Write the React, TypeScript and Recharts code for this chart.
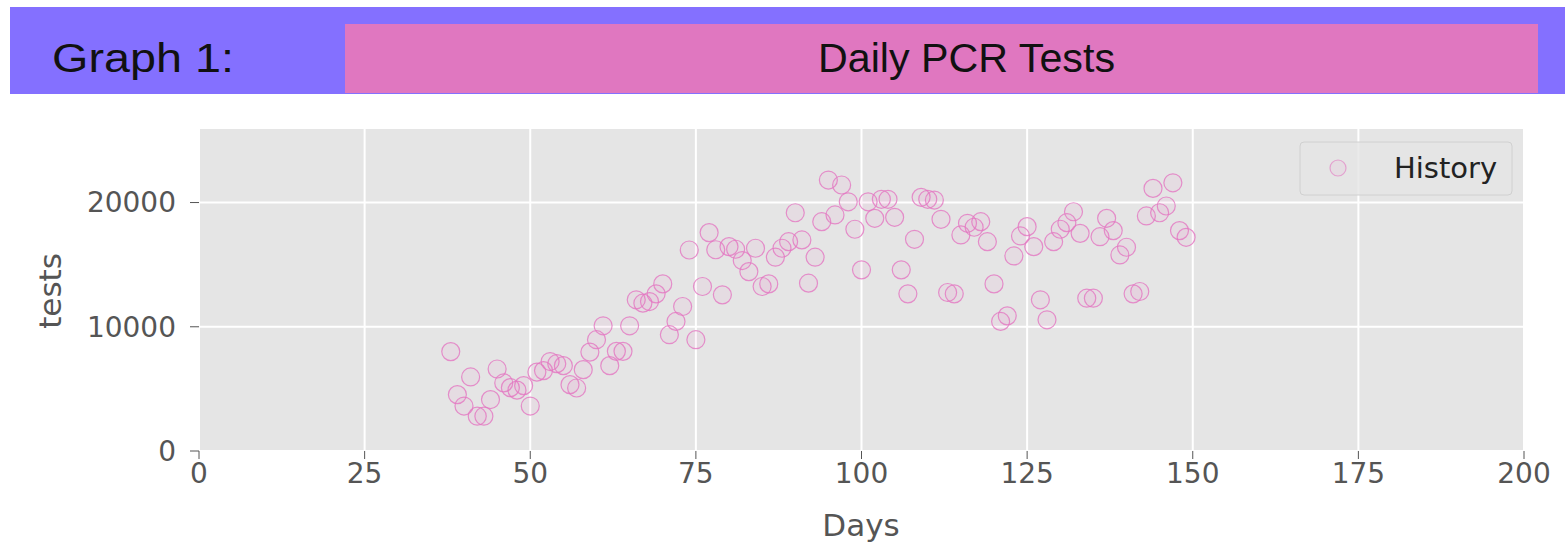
import React from 'react'
import { ScatterChart, Scatter, XAxis, YAxis, CartesianGrid, Label } from 'recharts'

// day number of each reading
const DAYS = [
    38, 39, 40, 41, 42, 43, 44, 45, 46, 47, 48, 49, 50, 51, 52, 53, 54, 55, 56, 57,
    58, 59, 60, 61, 62, 63, 64, 65, 66, 67, 68, 69, 70, 71, 72, 73, 74, 75, 76, 77,
    78, 79, 80, 81, 82, 83, 84, 85, 86, 87, 88, 89, 90, 91, 92, 93, 94, 95, 96, 97,
    98, 99, 100, 101, 102, 103, 104, 105, 106, 107, 108, 109, 110, 111, 112, 113, 114, 115, 116, 117,
    118, 119, 120, 121, 122, 123, 124, 125, 126, 127, 128, 129, 130, 131, 132, 133, 134, 135, 136, 137,
    138, 139, 140, 141, 142, 143, 144, 145, 146, 147, 148, 149,
]

// PCR tests per day
const TESTS = [
    8000, 4540, 3620, 5960, 2800, 2800, 4140, 6600, 5480, 5100, 4900, 5260, 3620, 6350, 6470, 7200, 7030, 6870, 5340, 5070,
    6550, 7960, 8960, 10080, 6870, 8020, 8020, 10080, 12170, 11900, 12030, 12650, 13450, 9360, 10430, 11630, 16180, 8960, 13240, 17580,
    16200, 12570, 16450, 16240, 15330, 14440, 16320, 13240, 13450, 15600, 16320, 16850, 19180, 16990, 13510, 15600, 18460, 21810, 19000, 21410,
    20060, 17850, 14580, 20060, 18730, 20260, 20260, 18810, 14580, 12650, 17040, 20420, 20260, 20200, 18650, 12760, 12650, 17390, 18330, 18010,
    18460, 16850, 13450, 10430, 10880, 15700, 17310, 18060, 16450, 12170, 10560, 16850, 17850, 18380, 19260, 17520, 12300, 12300, 17250, 18730,
    17740, 15780, 16400, 12650, 12840, 18920, 21140, 19180, 19720, 21590, 17740, 17200,
]

const X_TICKS = [0, 25, 50, 75, 100, 125, 150, 175, 200]
const Y_TICKS = [0, 10000, 20000]

const PINK = '#e377c2'
const TICK_FONT = '"DejaVu Sans", sans-serif'

const data = DAYS.map((d, i) => ({ day: d, tests: TESTS[i] }))

const Ring = (props: any) => (
    <circle
        cx={props.cx}
        cy={props.cy}
        r={9}
        fill={PINK}
        fillOpacity={0.08}
        stroke={PINK}
        strokeOpacity={0.8}
        strokeWidth={1.2}
    />
)

export default function App() {
    return (
        <div style={{ position: 'absolute', left: 0, top: 0, width: 1565, height: 546, background: '#fff' }}>
            <ScatterChart
                width={1565}
                height={546}
                margin={{ top: 128, right: 41, bottom: 35, left: 0 }}
            >
                <CartesianGrid fill="#e5e5e5" stroke="#ffffff" strokeWidth={2} />
                <XAxis
                    type="number"
                    dataKey="day"
                    domain={[0, 200]}
                    ticks={X_TICKS}
                    height={60}
                    axisLine={false}
                    tickLine={{ stroke: '#555' }}
                    tickSize={8}
                    tickMargin={4}
                    tick={{ fill: '#555', fontSize: 28, fontFamily: TICK_FONT }}
                >
                    <Label
                        content={() => (
                            <text x={861} y={536} textAnchor="middle" fill="#555" fontSize={31} fontFamily={TICK_FONT}>
                                Days
                            </text>
                        )}
                    />
                </XAxis>
                <YAxis
                    type="number"
                    dataKey="tests"
                    domain={[0, 26000]}
                    ticks={Y_TICKS}
                    width={199}
                    axisLine={false}
                    tickLine={{ stroke: '#555' }}
                    tickSize={9}
                    tickMargin={14}
                    tick={{ fill: '#555', fontSize: 28, fontFamily: TICK_FONT }}
                >
                    <Label
                        content={() => (
                            <text
                                x={61}
                                y={291}
                                transform="rotate(-90 61 291)"
                                textAnchor="middle"
                                fill="#555"
                                fontSize={31}
                                fontFamily={TICK_FONT}
                            >
                                tests
                            </text>
                        )}
                    />
                </YAxis>
                <Scatter name="History" data={data} shape={Ring} isAnimationActive={false} />
            </ScatterChart>

            {/* header banner + legend drawn on top */}
            <svg width={1565} height={546} style={{ position: 'absolute', left: 0, top: 0, pointerEvents: 'none' }}>
                <rect x={10} y={7} width={1555} height={87} fill="#8470ff" />
                <rect x={345} y={24} width={1193} height={69} fill="#e077c0" />
                <text
                    x={52}
                    y={72}
                    fontSize={41}
                    fontFamily='"Liberation Sans", Arial, sans-serif'
                    fill="#111"
                    textLength={182}
                    lengthAdjust="spacingAndGlyphs"
                >
                    Graph 1:
                </text>
                <text
                    x={818}
                    y={72}
                    fontSize={41}
                    fontFamily='"Liberation Sans", Arial, sans-serif'
                    fill="#111"
                    textLength={297}
                    lengthAdjust="spacingAndGlyphs"
                >
                    Daily PCR Tests
                </text>

                <rect x={1300} y={142} width={212} height={53} rx={4} fill="#e5e5e5" fillOpacity={0.8} stroke="#d0d0d0" />
                <circle cx={1338} cy={168} r={8} fill={PINK} fillOpacity={0.08} stroke={PINK} strokeOpacity={0.6} strokeWidth={1.2} />
                <text x={1394} y={178} fontSize={29} fontFamily={TICK_FONT} fill="#222">
                    History
                </text>
            </svg>
        </div>
    )
}
